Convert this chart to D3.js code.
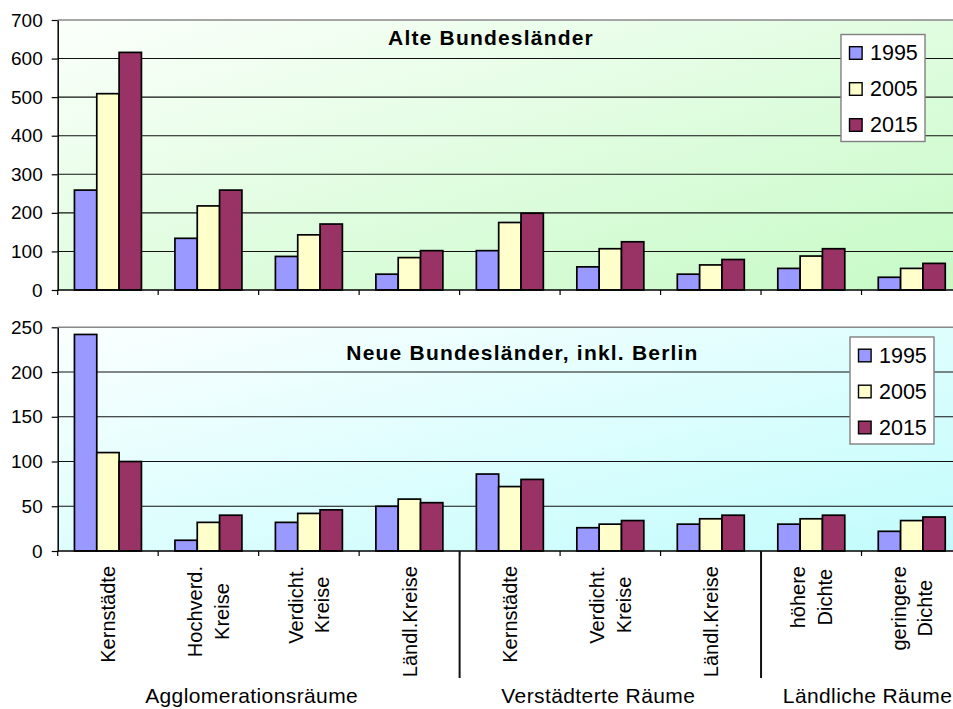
<!DOCTYPE html>
<html>
<head>
<meta charset="utf-8">
<script src="https://cdn.jsdelivr.net/npm/d3@7"></script>
<style>
  body { margin: 0; background: #fff; }
  text { font-family: Arial, "Liberation Sans", sans-serif; }
</style>
</head>
<body>
<div id="chart"></div>
<script>
// Data
var categories = ["Kernstädte", "Hochverd.|Kreise", "Verdicht.|Kreise", "Ländl.Kreise",
                  "Kernstädte", "Verdicht.|Kreise", "Ländl.Kreise",
                  "höhere|Dichte", "geringere|Dichte"];
var years = ["1995", "2005", "2015"];
var groups = ["Agglomerationsräume", "Verstädterte Räume", "Ländliche Räume"];
var groupSizes = [4, 3, 2];

// Alte Bundesländer
var alte1995 = [259, 134, 87, 41, 102, 60, 41, 56, 33];
var alte2005 = [509, 218, 143, 84, 175, 107, 65, 88, 56];
var alte2015 = [616, 259, 171, 102, 199, 125, 79, 107, 69];
var alteTicks = [0, 100, 200, 300, 400, 500, 600, 700];

// Neue Bundesländer, inkl. Berlin
var neue1995 = [242, 12, 32, 50, 86, 26, 30, 30, 22];
var neue2005 = [110, 32, 42, 58, 72, 30, 36, 36, 34];
var neue2015 = [100, 40, 46, 54, 80, 34, 40, 40, 38];
var neueTicks = [0, 50, 100, 150, 200, 250];

var colors = ["#9999ff", "#ffffcc", "#993366"];

var width = 953, height = 709;
var xLeft = 57.7, xRight = 962;

var svg = d3.select("#chart").append("svg")
  .attr("width", width)
  .attr("height", height);

svg.append("rect").attr("width", width).attr("height", height).attr("fill", "#fff");

var x = d3.scaleBand()
  .domain(d3.range(categories.length))
  .range([xLeft, xRight])
  .padding(0);

var xIn = d3.scaleBand()
  .domain(years)
  .range([0, x.bandwidth()])
  .paddingInner(0)
  .paddingOuter(0.75);

var defs = svg.append("defs");
function gradient(id, from, to) {
  var g = defs.append("linearGradient").attr("id", id)
    .attr("x1", 0).attr("y1", 0).attr("x2", 1).attr("y2", 1);
  g.append("stop").attr("offset", "0%").attr("stop-color", from);
  g.append("stop").attr("offset", "100%").attr("stop-color", to);
}
gradient("bgGreen", "#fbfffb", "#c6fac6");
gradient("bgCyan", "#fbffff", "#c2fcfc");

function drawPanel(series, ticks, yTop, yZero, grad, title, titleX, titleY, legX, legY) {
  var yMax = ticks[ticks.length - 1];
  var y = d3.scaleLinear().domain([0, yMax]).range([yZero, yTop]);
  var g = svg.append("g");

  // plot area
  g.append("rect")
    .attr("x", xLeft).attr("y", yTop)
    .attr("width", width - xLeft).attr("height", yZero - yTop)
    .attr("fill", "url(#" + grad + ")");

  // gridlines
  g.selectAll(".grid")
    .data(ticks.slice(1))
    .enter().append("line")
    .attr("x1", xLeft).attr("x2", width)
    .attr("y1", function(d) { return y(d); })
    .attr("y2", function(d) { return y(d); })
    .attr("stroke", function(d) { return d === yMax ? "#888" : "#111"; })
    .attr("stroke-width", function(d) { return d === yMax ? 1.6 : 1.1; });

  // bars
  years.forEach(function(yr, k) {
    g.selectAll(".bar" + yr)
      .data(series[k])
      .enter().append("rect")
      .attr("x", function(d, i) { return x(i) + xIn(yr); })
      .attr("y", function(d) { return y(d); })
      .attr("width", xIn.bandwidth())
      .attr("height", function(d) { return yZero - y(d); })
      .attr("fill", colors[k])
      .attr("stroke", "#000")
      .attr("stroke-width", 1.7);
  });

  // y axis
  var ax = g.append("g")
    .attr("transform", "translate(" + xLeft + ",0)")
    .call(d3.axisLeft(y).tickValues(ticks).tickSize(6).tickPadding(9).tickSizeOuter(0));
  ax.select(".domain").attr("stroke", "#000").attr("stroke-width", 1.5);
  ax.selectAll(".tick line").attr("stroke", "#000").attr("stroke-width", 1.2);
  ax.selectAll(".tick text")
    .attr("font-size", "19px")
    .attr("fill", "#000")
    .attr("font-family", "Arial, 'Liberation Sans', sans-serif");

  // x axis line and category boundary ticks
  g.append("line")
    .attr("x1", xLeft).attr("x2", width)
    .attr("y1", yZero).attr("y2", yZero)
    .attr("stroke", "#000").attr("stroke-width", 1.5);
  g.selectAll(".xtick")
    .data(d3.range(categories.length))
    .enter().append("line")
    .attr("x1", function(i) { return x(i); })
    .attr("x2", function(i) { return x(i); })
    .attr("y1", yZero).attr("y2", yZero + 5)
    .attr("stroke", "#000").attr("stroke-width", 1.2);

  // title
  g.append("text")
    .attr("x", titleX).attr("y", titleY)
    .attr("text-anchor", "middle")
    .attr("font-size", "21px")
    .attr("font-weight", "bold")
    .attr("letter-spacing", "1.2px")
    .text(title);

  // legend
  var lg = g.append("g").attr("transform", "translate(" + legX + "," + legY + ")");
  lg.append("rect")
    .attr("width", 84).attr("height", 107)
    .attr("fill", "#fff")
    .attr("stroke", "#808080").attr("stroke-width", 1.4);
  years.forEach(function(yr, k) {
    var cy = 18.5 + k * 36;
    lg.append("rect")
      .attr("x", 8.5).attr("y", cy - 6.3)
      .attr("width", 12.6).attr("height", 12.6)
      .attr("fill", colors[k])
      .attr("stroke", "#000").attr("stroke-width", 1.4);
    lg.append("text")
      .attr("x", 29).attr("y", cy + 7.3)
      .attr("font-size", "21.5px")
      .text(yr);
  });
}

drawPanel([alte1995, alte2005, alte2015], alteTicks, 20, 290, "bgGreen",
          "Alte Bundesländer", 491, 45, 841, 34.5);
drawPanel([neue1995, neue2005, neue2015], neueTicks, 327.3, 551, "bgCyan",
          "Neue Bundesländer, inkl. Berlin", 522.5, 360, 850, 337);

// rotated category labels under the lower panel
var labelTop = 566;
var lineGap = 26.5;
categories.forEach(function(c, i) {
  var lines = c.split("|");
  var cx = x(i) + x.bandwidth() / 2;
  var lab = svg.append("g");
  var texts = lines.map(function(t) {
    return lab.append("text")
      .attr("font-size", "20px")
      .attr("text-anchor", "middle")
      .text(t);
  });
  var maxW = d3.max(texts, function(t) { return t.node().getComputedTextLength(); });
  var cy = labelTop + maxW / 2;
  texts.forEach(function(t, j) {
    var off = (j - (lines.length - 1) / 2) * lineGap;
    var bx = cx + off + 7.2;  // baseline sits right of the glyph center
    t.attr("transform", "translate(" + bx + "," + cy + ") rotate(-90)");
  });
});

// group separators and group names
var bounds = [0];
groupSizes.forEach(function(n, k) { bounds.push(bounds[k] + n); });
svg.selectAll(".sep")
  .data(bounds.slice(1, -1))
  .enter().append("line")
  .attr("x1", function(b) { return x(b); })
  .attr("x2", function(b) { return x(b); })
  .attr("y1", 551).attr("y2", 678)
  .attr("stroke", "#111").attr("stroke-width", 2);

var groupShift = [-7, -12, 6];
svg.selectAll(".grp")
  .data(groups)
  .enter().append("text")
  .attr("x", function(d, k) {
    var a = x(bounds[k]);
    var b = bounds[k + 1] < categories.length ? x(bounds[k + 1]) : xRight;
    return (a + b) / 2 + groupShift[k];
  })
  .attr("y", 703)
  .attr("text-anchor", "middle")
  .attr("font-size", "21px")
  .attr("letter-spacing", "0.4px")
  .text(function(d) { return d; });
</script>
</body>
</html>
